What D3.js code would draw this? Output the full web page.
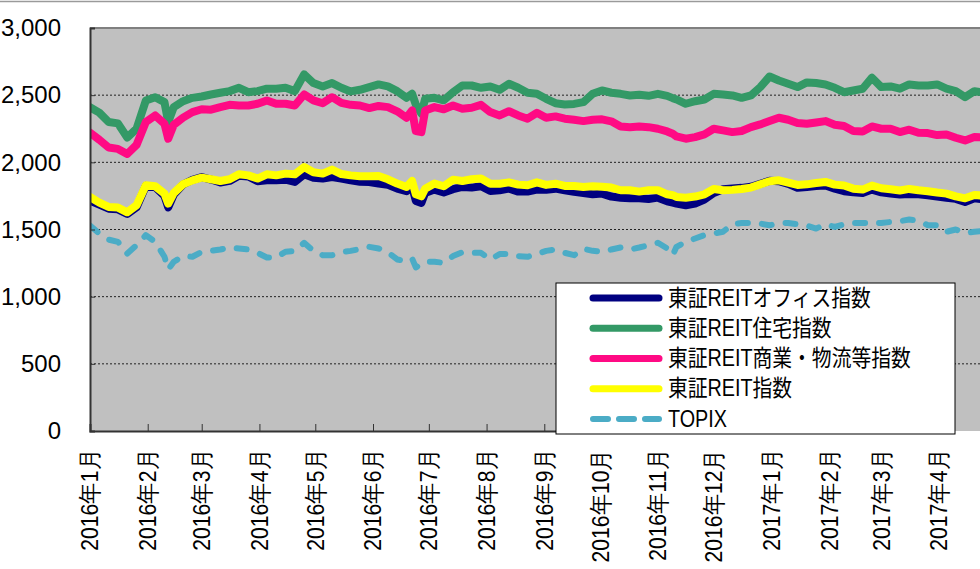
<!DOCTYPE html>
<html>
<head>
<meta charset="utf-8">
<script src="https://cdn.jsdelivr.net/npm/d3@7"></script>
<style>
  body { margin: 0; background: #fff; }
  svg { display: block; font-family: "Liberation Sans", Arial, "Noto Sans CJK JP", sans-serif; }
</style>
</head>
<body>
<svg width="980" height="569"></svg>
<script>
// sample dates (roughly every 5 days, plus a few extra around sharp moves)
var dates = [
  "2016-01-01","2016-01-06","2016-01-11","2016-01-16","2016-01-21","2016-01-26","2016-01-31","2016-02-05","2016-02-10","2016-02-12",
  "2016-02-15","2016-02-20","2016-02-25","2016-03-01","2016-03-06","2016-03-11","2016-03-16","2016-03-21","2016-03-26","2016-03-31",
  "2016-04-05","2016-04-10","2016-04-15","2016-04-20","2016-04-25","2016-04-30","2016-05-05","2016-05-10","2016-05-15","2016-05-20",
  "2016-05-25","2016-05-30","2016-06-04","2016-06-09","2016-06-14","2016-06-19","2016-06-22","2016-06-24","2016-06-27","2016-06-29",
  "2016-07-04","2016-07-09","2016-07-14","2016-07-19","2016-07-24","2016-07-29","2016-08-03","2016-08-08","2016-08-13","2016-08-18",
  "2016-08-23","2016-08-28","2016-09-02","2016-09-07","2016-09-12","2016-09-17","2016-09-22","2016-09-27","2016-10-02","2016-10-07",
  "2016-10-12","2016-10-17","2016-10-22","2016-10-27","2016-11-01","2016-11-06","2016-11-09","2016-11-11","2016-11-16","2016-11-21",
  "2016-11-26","2016-12-01","2016-12-06","2016-12-11","2016-12-16","2016-12-21","2016-12-26","2016-12-31","2017-01-05","2017-01-10",
  "2017-01-15","2017-01-20","2017-01-25","2017-01-30","2017-02-04","2017-02-09","2017-02-14","2017-02-19","2017-02-24","2017-03-01",
  "2017-03-06","2017-03-11","2017-03-16","2017-03-21","2017-03-26","2017-03-31","2017-04-05","2017-04-10","2017-04-15","2017-04-20",
  "2017-04-25"
];

var officeValues = [
  1715,1685,1655,1650,1615,1665,1825,1815,1750,1665,
  1760,1835,1870,1890,1872,1850,1862,1900,1895,1860,
  1866,1866,1871,1854,1911,1886,1879,1891,1879,1866,
  1856,1854,1842,1832,1804,1785,1822,1713,1698,1772,
  1797,1775,1800,1817,1812,1822,1787,1792,1804,1782,
  1782,1797,1795,1804,1792,1780,1772,1762,1767,1745,
  1737,1732,1732,1727,1737,1710,1700,1693,1681,1693,
  1723,1772,1800,1805,1810,1818,1840,1862,1860,1840,
  1810,1817,1824,1827,1804,1785,1777,1772,1797,1777,
  1767,1760,1765,1762,1755,1745,1737,1728,1705,1732,
  1725
];

var residentialValues = [
  2410,2370,2300,2290,2185,2250,2460,2485,2448,2300,
  2411,2455,2480,2490,2505,2518,2530,2555,2522,2530,
  2548,2548,2555,2530,2655,2590,2565,2590,2555,2528,
  2540,2560,2580,2565,2530,2480,2510,2430,2362,2473,
  2480,2462,2522,2572,2572,2555,2565,2540,2585,2555,
  2518,2510,2473,2440,2431,2435,2448,2510,2535,2518,
  2510,2498,2503,2495,2510,2495,2478,2468,2436,2455,
  2468,2510,2505,2498,2480,2498,2560,2639,2609,2585,
  2560,2595,2590,2580,2555,2522,2535,2548,2630,2560,
  2565,2548,2580,2572,2572,2580,2548,2530,2485,2530,
  2520
];

var retailValues = [
  2220,2168,2110,2100,2062,2130,2300,2349,2287,2176,
  2280,2333,2374,2395,2392,2411,2428,2423,2423,2436,
  2461,2436,2436,2423,2505,2461,2440,2485,2443,2428,
  2423,2404,2420,2411,2380,2332,2386,2232,2225,2386,
  2411,2395,2423,2399,2406,2428,2374,2349,2381,2349,
  2325,2369,2332,2342,2325,2317,2307,2317,2320,2305,
  2267,2262,2267,2262,2250,2230,2213,2193,2176,2188,
  2208,2250,2238,2225,2233,2262,2282,2307,2332,2317,
  2292,2287,2297,2307,2280,2270,2233,2230,2267,2250,
  2250,2225,2243,2220,2218,2203,2208,2183,2163,2188,
  2185
];

var reitValues = [
  1742,1700,1668,1663,1628,1680,1829,1822,1767,1693,
  1772,1837,1866,1886,1874,1861,1874,1911,1903,1879,
  1911,1903,1916,1911,1965,1926,1916,1946,1913,1903,
  1896,1896,1898,1874,1842,1817,1861,1762,1747,1804,
  1842,1822,1871,1861,1874,1879,1841,1841,1851,1834,
  1829,1851,1832,1841,1824,1824,1817,1822,1819,1812,
  1792,1792,1782,1792,1792,1762,1755,1742,1737,1745,
  1762,1802,1792,1795,1802,1812,1836,1859,1866,1849,
  1832,1836,1846,1854,1834,1827,1804,1797,1827,1807,
  1800,1790,1802,1792,1785,1775,1767,1747,1732,1757,
  1752
];

var topixValues = [
  1530,1470,1425,1408,1321,1383,1458,1408,1297,1203,
  1260,1302,1297,1334,1341,1351,1366,1359,1351,1326,
  1292,1292,1334,1341,1401,1341,1309,1309,1331,1341,
  1354,1371,1359,1331,1277,1265,1284,1218,1242,1260,
  1260,1252,1302,1331,1326,1326,1277,1317,1317,1302,
  1297,1317,1341,1351,1326,1309,1356,1341,1334,1351,
  1366,1351,1366,1383,1401,1359,1309,1371,1408,1433,
  1458,1470,1483,1539,1549,1549,1544,1532,1544,1549,
  1539,1529,1507,1539,1519,1539,1549,1549,1544,1549,
  1556,1562,1574,1564,1532,1532,1483,1500,1475,1483,
  1490
];

var seriesNames = ["東証REITオフィス指数", "東証REIT住宅指数", "東証REIT商業・物流等指数", "東証REIT指数", "TOPIX"];
var yTicks = [0, 500, 1000, 1500, 2000, 2500, 3000];

var svg = d3.select("svg");
var parse = d3.timeParse("%Y-%m-%d");
var plot = { left: 90, top: 28, bottom: 431, right: 1000 };

var xScale = d3.scaleTime()
  .domain([parse("2016-01-01"), parse("2017-04-01")])
  .range([plot.left, 939]);
var yScale = d3.scaleLinear()
  .domain([0, 3000])
  .range([plot.bottom, plot.top]);

var series = [
  { name: seriesNames[0], values: officeValues, color: "#000080", width: 8 },
  { name: seriesNames[1], values: residentialValues, color: "#339966", width: 8 },
  { name: seriesNames[2], values: retailValues, color: "#FF0A84", width: 8 },
  { name: seriesNames[3], values: reitValues, color: "#FFFF00", width: 8 },
  { name: seriesNames[4], values: topixValues, color: "#4BACC6", width: 6, dash: "10,14", legendDash: "15,11" }
];

// top frame line (page border)
svg.append("line")
  .attr("x1", 0).attr("x2", 980).attr("y1", 1.5).attr("y2", 1.5)
  .attr("stroke", "#9a9a9a").attr("stroke-width", 1.5);

// plot background
svg.append("rect")
  .attr("x", plot.left).attr("y", plot.top)
  .attr("width", plot.right - plot.left).attr("height", plot.bottom - plot.top)
  .attr("fill", "#C0C0C0");

svg.append("defs").append("clipPath").attr("id", "clip")
  .append("rect")
  .attr("x", plot.left).attr("y", plot.top)
  .attr("width", plot.right - plot.left).attr("height", plot.bottom - plot.top);

// gridlines
svg.selectAll(".grid")
  .data(yTicks.filter(function(d) { return d > 0 && d < 3000; }))
  .enter().append("line")
  .attr("class", "grid")
  .attr("x1", plot.left).attr("x2", plot.right)
  .attr("y1", function(d) { return yScale(d); })
  .attr("y2", function(d) { return yScale(d); })
  .attr("stroke", "#222")
  .attr("stroke-width", 1)
  .attr("stroke-dasharray", "2,2");

// top border of plot
svg.append("line")
  .attr("x1", plot.left).attr("x2", plot.right)
  .attr("y1", plot.top).attr("y2", plot.top)
  .attr("stroke", "#808080").attr("stroke-width", 2);

// lines
var line = d3.line()
  .x(function(d) { return xScale(d.date); })
  .y(function(d) { return yScale(d.value); });

var linesG = svg.append("g").attr("clip-path", "url(#clip)");

// TOPIX first, then the REIT series so yellow sits on top of navy
var drawOrder = [4, 0, 1, 2, 3];
drawOrder.forEach(function(i) {
  var s = series[i];
  var pts = dates.map(function(d, j) { return { date: parse(d), value: s.values[j] }; });
  linesG.append("path")
    .datum(pts)
    .attr("d", line)
    .attr("fill", "none")
    .attr("stroke", s.color)
    .attr("stroke-width", s.width)
    .attr("stroke-linejoin", "round")
    .attr("stroke-linecap", "round")
    .attr("stroke-dasharray", s.dash || null);
});

// y axis
var yAxis = d3.axisLeft(yScale)
  .tickValues(yTicks)
  .tickSize(-5)
  .tickPadding(29)
  .tickFormat(d3.format(","));
var yG = svg.append("g")
  .attr("transform", "translate(" + plot.left + ",0)")
  .call(yAxis);
yG.select(".domain").attr("stroke", "#333").attr("stroke-width", 2);
yG.selectAll(".tick line").attr("stroke", "#333");
yG.selectAll("text")
  .attr("font-size", 24)
  .attr("fill", "#000")
  .attr("font-family", "'Liberation Sans', Arial, sans-serif");

// x axis
var xAxis = d3.axisBottom(xScale)
  .ticks(d3.timeMonth.every(1))
  .tickSize(-7)
  .tickFormat(d3.timeFormat("%Y年%-m月"));
var xG = svg.append("g")
  .attr("transform", "translate(0," + plot.bottom + ")")
  .call(xAxis);
xG.select(".domain").attr("stroke", "#333").attr("stroke-width", 2);
xG.selectAll(".tick line").attr("stroke", "#333");
xG.selectAll("text")
  .attr("font-size", 24)
  .attr("fill", "#000")
  .attr("text-anchor", "end")
  .attr("dominant-baseline", "central")
  .attr("x", 0).attr("y", 0).attr("dy", null)
  .attr("transform", "translate(0,18) rotate(-90) scale(0.88,1)");

// legend
var legend = svg.append("g");
legend.append("rect")
  .attr("x", 556).attr("y", 283)
  .attr("width", 399).attr("height", 151)
  .attr("fill", "#fff")
  .attr("stroke", "#000")
  .attr("stroke-width", 1);

var legendY = d3.scalePoint()
  .domain(seriesNames)
  .range([298, 419]);

series.forEach(function(s) {
  var y = legendY(s.name);
  legend.append("line")
    .attr("x1", 593).attr("x2", 659)
    .attr("y1", y).attr("y2", y)
    .attr("stroke", s.color)
    .attr("stroke-width", s.name === "TOPIX" ? 6 : 7)
    .attr("stroke-linecap", "round")
    .attr("stroke-dasharray", s.legendDash || null);
  legend.append("text")
    .attr("transform", "translate(668," + y + ") scale(0.86,1)")
    .attr("dominant-baseline", "central")
    .attr("font-size", 23)
    .attr("fill", "#000")
    .text(s.name);
});
</script>
</body>
</html>
